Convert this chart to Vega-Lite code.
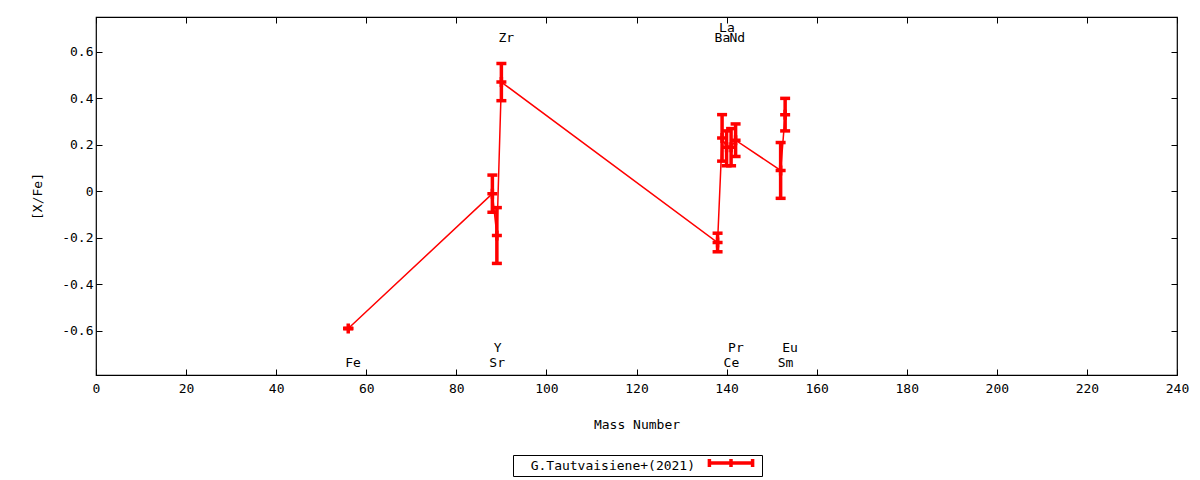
{
  "$schema": "https://vega.github.io/schema/vega-lite/v6.json",
  "width": 1081,
  "height": 358,
  "autosize": {"type": "none"},
  "padding": {"left": 96, "top": 17, "right": 23, "bottom": 105},
  "background": "white",
  "config": {
    "font": "DejaVu Sans Mono",
    "view": {"stroke": "black", "strokeWidth": 1.2},
    "axis": {
      "labelFont": "DejaVu Sans Mono",
      "labelFontSize": 13,
      "labelColor": "black",
      "titleFont": "DejaVu Sans Mono",
      "titleFontSize": 13,
      "titleFontWeight": "normal",
      "titleColor": "black",
      "domain": false,
      "grid": false,
      "tickColor": "black",
      "tickWidth": 1
    }
  },
  "datasets": {
    "abund": [
      {"elem": "Fe", "mass": 56, "val": -0.59, "lo": -0.59, "hi": -0.59, "source": "G.Tautvaisiene+(2021)"},
      {"elem": "Sr", "mass": 88, "val": -0.01, "lo": -0.09, "hi": 0.07, "source": "G.Tautvaisiene+(2021)"},
      {"elem": "Y", "mass": 89, "val": -0.19, "lo": -0.31, "hi": -0.07, "source": "G.Tautvaisiene+(2021)"},
      {"elem": "Zr", "mass": 90, "val": 0.47, "lo": 0.39, "hi": 0.55, "source": "G.Tautvaisiene+(2021)"},
      {"elem": "Ba", "mass": 138, "val": -0.22, "lo": -0.26, "hi": -0.18, "source": "G.Tautvaisiene+(2021)"},
      {"elem": "La", "mass": 139, "val": 0.23, "lo": 0.13, "hi": 0.33, "source": "G.Tautvaisiene+(2021)"},
      {"elem": "Ce", "mass": 140, "val": 0.19, "lo": 0.11, "hi": 0.26, "source": "G.Tautvaisiene+(2021)"},
      {"elem": "Pr", "mass": 141, "val": 0.19, "lo": 0.11, "hi": 0.27, "source": "G.Tautvaisiene+(2021)"},
      {"elem": "Nd", "mass": 142, "val": 0.22, "lo": 0.15, "hi": 0.29, "source": "G.Tautvaisiene+(2021)"},
      {"elem": "Sm", "mass": 152, "val": 0.09, "lo": -0.03, "hi": 0.21, "source": "G.Tautvaisiene+(2021)"},
      {"elem": "Eu", "mass": 153, "val": 0.33, "lo": 0.26, "hi": 0.4, "source": "G.Tautvaisiene+(2021)"}
    ],
    "labels": [
      {"elem": "Fe", "lx": 56, "ly": -0.74},
      {"elem": "Sr", "lx": 88, "ly": -0.74},
      {"elem": "Y", "lx": 89, "ly": -0.675},
      {"elem": "Zr", "lx": 90, "ly": 0.66},
      {"elem": "Ba", "lx": 138, "ly": 0.66},
      {"elem": "La", "lx": 139, "ly": 0.703},
      {"elem": "Ce", "lx": 140, "ly": -0.74},
      {"elem": "Pr", "lx": 141, "ly": -0.675},
      {"elem": "Nd", "lx": 141.3, "ly": 0.66},
      {"elem": "Sm", "lx": 152, "ly": -0.74},
      {"elem": "Eu", "lx": 153, "ly": -0.675}
    ]
  },
  "resolve": {"axis": {"x": "independent", "y": "independent"}},
  "layer": [
    {
      "data": {"name": "abund"},
      "mark": {"type": "line", "strokeWidth": 1.5},
      "encoding": {
        "x": {
          "field": "mass",
          "type": "quantitative",
          "scale": {"domain": [0, 240], "nice": false, "zero": false},
          "axis": {
            "orient": "bottom",
            "title": "Mass Number",
            "values": [0, 20, 40, 60, 80, 100, 120, 140, 160, 180, 200, 220, 240],
            "tickSize": -6,
            "labelPadding": 13,
            "titlePadding": 23,
            "labelFlush": false
          }
        },
        "y": {
          "field": "val",
          "type": "quantitative",
          "scale": {"domain": [-0.79, 0.75], "nice": false, "zero": false},
          "axis": {
            "orient": "left",
            "title": "[X/Fe]",
            "values": [-0.6, -0.4, -0.2, 0, 0.2, 0.4, 0.6],
            "labelExpr": "datum.value == 0 ? '0' : (datum.value < 0 ? '-' + format(-datum.value, '.1f') : format(datum.value, '.1f'))",
            "tickSize": -6,
            "labelPadding": 9,
            "titlePadding": 17
          }
        },
        "color": {
          "field": "source",
          "type": "nominal",
          "scale": {"domain": ["G.Tautvaisiene+(2021)"], "range": ["#ff0000"]},
          "legend": {
            "orient": "none",
            "legendX": 417,
            "legendY": 438,
            "title": "\u200b\u00a0\u00a0G.Tautvaisiene+(2021)",
            "titleOrient": "left",
            "titleFont": "DejaVu Sans Mono",
            "titleFontSize": 13,
            "titleFontWeight": "normal",
            "titleColor": "black",
            "titleBaseline": "middle",
            "titleLimit": 400,
            "titlePadding": 8,
            "labelExpr": "''",
            "labelOffset": 19,
            "symbolOffset": 21,
            "symbolType": "M-5.4,0H5.4M-5.4,-1V1M5.4,-1V1M0,-1V1",
            "symbolSize": 64,
            "symbolStrokeWidth": 3.5,
            "symbolStrokeColor": "#ff0000",
            "strokeColor": "black",
            "padding": 2,
            "cornerRadius": 0
          }
        }
      }
    },
    {
      "data": {"name": "abund"},
      "mark": {"type": "rule", "color": "#ff0000", "strokeWidth": 3.5},
      "encoding": {
        "x": {
          "field": "mass",
          "type": "quantitative",
          "axis": {"orient": "top", "title": null, "labels": false, "tickSize": -6, "values": [0, 20, 40, 60, 80, 100, 120, 140, 160, 180, 200, 220, 240]}
        },
        "y": {
          "field": "lo",
          "type": "quantitative",
          "axis": {"orient": "right", "title": null, "labels": false, "tickSize": -6, "values": [-0.6, -0.4, -0.2, 0, 0.2, 0.4, 0.6]}
        },
        "y2": {"field": "hi"}
      }
    },
    {
      "data": {"name": "abund"},
      "transform": [{"fold": ["lo", "hi"], "as": ["kind", "yy"]}],
      "mark": {"type": "tick", "orient": "horizontal", "color": "#ff0000", "size": 10, "thickness": 3.5, "opacity": 1},
      "encoding": {
        "x": {"field": "mass", "type": "quantitative", "axis": null},
        "y": {"field": "yy", "type": "quantitative", "axis": null}
      }
    },
    {
      "data": {"name": "abund"},
      "mark": {"type": "point", "shape": "M-1,0H1M0,-1V1", "size": 100, "filled": false, "stroke": "#ff0000", "strokeWidth": 3.5, "opacity": 1},
      "encoding": {
        "x": {"field": "mass", "type": "quantitative", "axis": null},
        "y": {"field": "val", "type": "quantitative", "axis": null}
      }
    },
    {
      "data": {"name": "labels"},
      "mark": {"type": "text", "align": "left", "baseline": "middle", "dx": -3, "font": "DejaVu Sans Mono", "fontSize": 13, "color": "black"},
      "encoding": {
        "x": {"field": "lx", "type": "quantitative", "axis": null},
        "y": {"field": "ly", "type": "quantitative", "axis": null},
        "text": {"field": "elem"}
      }
    }
  ]
}
